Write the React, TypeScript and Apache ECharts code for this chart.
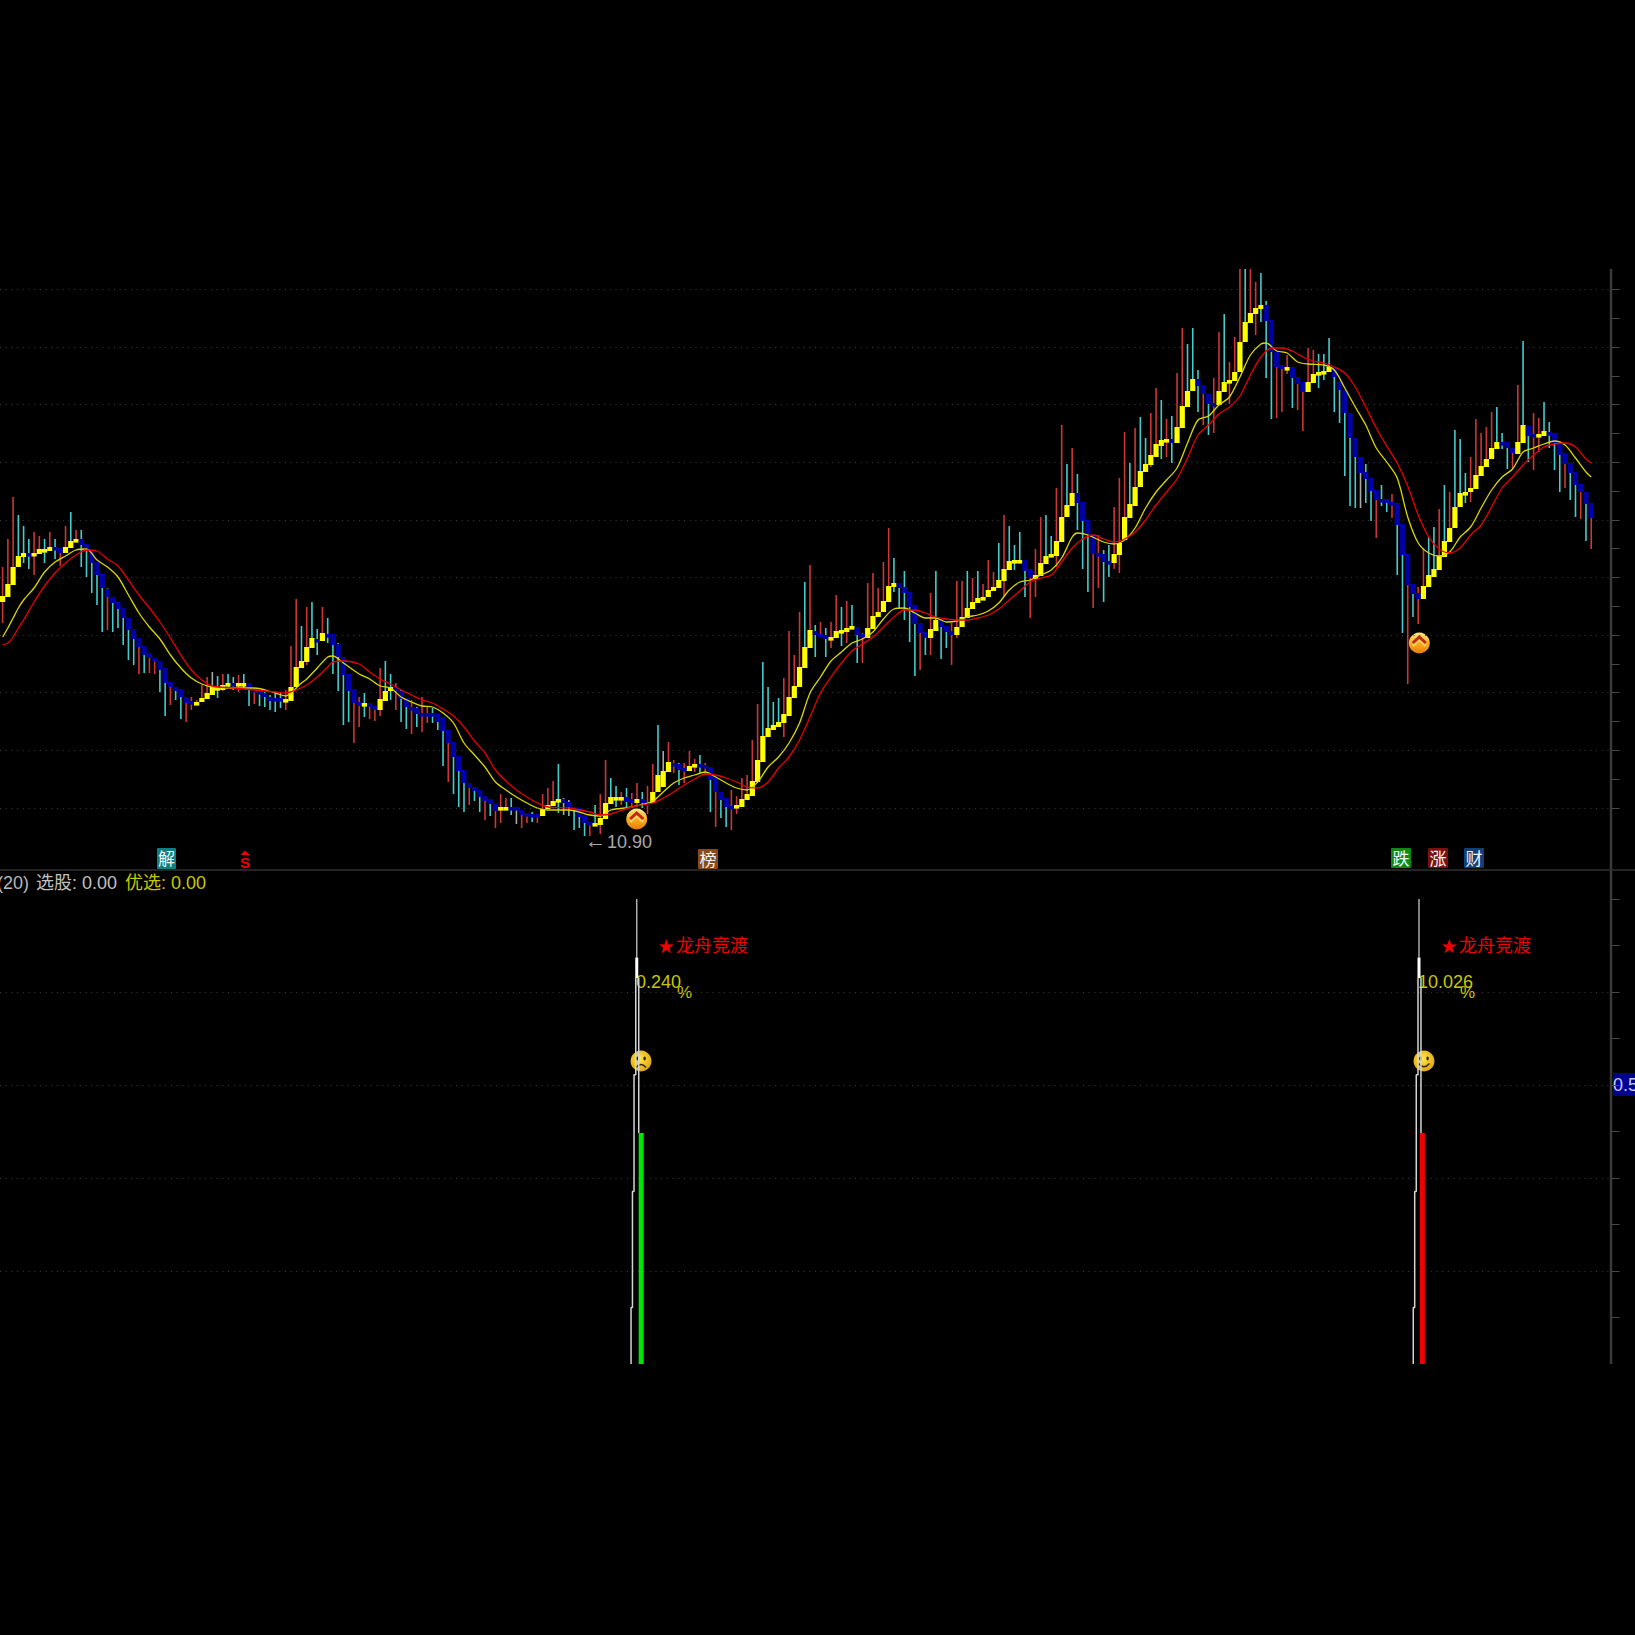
import React, { useEffect, useRef } from "react";
import * as echarts from "echarts";

// Candle values (price in hundredths; 1090 = 10.90)
const highs = [
  1359,1387,1429,1411,1400,1387,1394,1390,1387,1394,
  1387,1378,1400,1414,1396,1396,1382,1374,1364,1352,
  1338,1329,1324,1318,1308,1297,1288,1280,1273,1268,
  1265,1258,1244,1239,1237,1229,1229,1226,1241,1249,
  1254,1250,1252,1252,1249,1251,1252,1243,1238,1236,
  1234,1231,1234,1233,1236,1280,1327,1300,1319,1324,
  1297,1319,1308,1292,1283,1269,1252,1237,1229,1233,
  1223,1220,1258,1265,1252,1243,1236,1228,1226,1219,
  1229,1219,1218,1212,1209,1196,1184,1170,1156,1143,
  1139,1136,1130,1126,1122,1132,1128,1128,1119,1116,
  1113,1114,1112,1132,1138,1145,1162,1128,1126,1119,
  1118,1111,1104,1121,1132,1166,1148,1140,1134,1138,
  1133,1143,1134,1140,1162,1201,1175,1184,1166,1163,
  1163,1175,1167,1171,1163,1159,1148,1134,1128,1136,
  1130,1148,1151,1186,1222,1264,1239,1224,1228,1248,
  1295,1271,1314,1344,1361,1301,1304,1298,1304,1331,
  1319,1325,1321,1299,1293,1343,1353,1338,1364,1398,
  1368,1343,1355,1334,1321,1303,1294,1333,1355,1306,
  1300,1303,1345,1345,1355,1348,1355,1342,1366,1354,
  1383,1411,1400,1381,1394,1366,1357,1377,1409,1411,
  1390,1438,1501,1462,1478,1452,1424,1406,1392,1391,
  1376,1381,1419,1448,1494,1463,1498,1509,1488,1513,
  1538,1526,1507,1510,1553,1598,1582,1598,1556,1541,
  1532,1548,1594,1612,1564,1589,1670,1680,1680,1644,
  1653,1625,1606,1574,1561,1571,1559,1549,1544,1578,
  1576,1572,1572,1588,1558,1545,1536,1513,1488,1469,
  1462,1448,1436,1441,1427,1432,1423,1402,1372,1342,
  1339,1378,1389,1399,1417,1441,1434,1496,1487,1453,
  1469,1507,1493,1499,1514,1519,1493,1484,1478,1541,
  1585,1500,1513,1508,1524,1504,1493,1483,1473,1463,
  1454,1442,1434,1423,
];
const lows = [
  1303,1331,1346,1359,1363,1357,1351,1372,1363,1375,
  1367,1360,1373,1378,1384,1359,1349,1333,1321,1294,
  1296,1294,1298,1281,1266,1261,1252,1253,1253,1252,
  1234,1210,1221,1226,1207,1204,1216,1221,1224,1227,
  1231,1228,1235,1239,1236,1234,1238,1220,1222,1220,
  1219,1216,1214,1218,1216,1225,1239,1258,1261,1278,
  1271,1285,1283,1252,1235,1201,1204,1183,1199,1209,
  1207,1205,1210,1225,1226,1216,1204,1197,1192,1199,
  1194,1203,1203,1196,1160,1144,1132,1119,1114,1121,
  1125,1114,1106,1110,1098,1103,1117,1111,1102,1098,
  1103,1104,1103,1110,1117,1120,1113,1111,1110,1096,
  1098,1090,1090,1101,1092,1107,1122,1119,1121,1118,
  1118,1121,1118,1112,1123,1134,1139,1154,1153,1141,
  1143,1155,1154,1153,1151,1114,1099,1108,1099,1096,
  1112,1119,1126,1130,1144,1164,1189,1196,1199,1189,
  1210,1228,1239,1258,1278,1269,1289,1269,1278,1288,
  1280,1283,1297,1263,1263,1288,1297,1309,1314,1324,
  1334,1318,1306,1284,1250,1256,1271,1271,1295,1267,
  1278,1261,1288,1299,1308,1317,1323,1327,1329,1335,
  1338,1329,1356,1356,1364,1329,1308,1329,1350,1362,
  1369,1359,1384,1409,1420,1396,1357,1334,1318,1338,
  1324,1349,1357,1353,1386,1408,1420,1439,1454,1459,
  1469,1467,1469,1463,1483,1498,1519,1535,1514,1501,
  1491,1493,1521,1534,1522,1545,1554,1584,1603,1591,
  1604,1548,1507,1508,1514,1552,1518,1516,1495,1534,
  1543,1538,1546,1554,1514,1503,1450,1420,1418,1418,
  1423,1405,1388,1420,1414,1408,1351,1293,1242,1309,
  1302,1327,1339,1349,1356,1369,1384,1398,1419,1423,
  1424,1437,1450,1459,1467,1477,1477,1457,1458,1472,
  1483,1464,1456,1474,1490,1478,1456,1434,1438,1426,
  1409,1407,1385,1377,
];
const bodyTops = [
  1330,1342,1359,1370,1373,1373,1373,1377,1377,1379,
  1379,1378,1379,1385,1387,1387,1382,1374,1364,1352,
  1337,1329,1324,1318,1308,1297,1288,1280,1273,1268,
  1265,1258,1244,1239,1237,1229,1225,1224,1228,1233,
  1239,1239,1241,1243,1243,1243,1243,1243,1237,1235,
  1233,1229,1228,1228,1227,1239,1259,1265,1279,1288,
  1287,1293,1292,1292,1282,1269,1252,1237,1224,1223,
  1223,1220,1227,1235,1239,1239,1235,1228,1219,1218,
  1213,1213,1213,1212,1209,1196,1184,1170,1156,1143,
  1139,1136,1130,1127,1122,1119,1119,1119,1119,1116,
  1113,1112,1112,1117,1121,1125,1127,1127,1124,1119,
  1118,1111,1104,1103,1108,1123,1129,1129,1129,1129,
  1127,1127,1127,1124,1134,1151,1155,1164,1163,1162,
  1158,1160,1162,1162,1161,1159,1148,1134,1128,1120,
  1121,1127,1132,1145,1166,1190,1198,1201,1204,1212,
  1229,1240,1259,1279,1296,1295,1292,1291,1289,1295,
  1296,1298,1300,1299,1292,1298,1310,1314,1325,1340,
  1343,1343,1339,1334,1321,1303,1294,1297,1306,1306,
  1300,1295,1299,1309,1318,1324,1328,1329,1336,1339,
  1346,1357,1365,1366,1366,1366,1357,1351,1363,1370,
  1372,1385,1409,1421,1433,1433,1424,1406,1392,1373,
  1372,1365,1372,1383,1409,1422,1439,1455,1462,1471,
  1482,1486,1487,1487,1499,1520,1535,1547,1547,1541,
  1532,1523,1535,1544,1546,1554,1584,1604,1613,1618,
  1621,1621,1606,1574,1561,1559,1559,1549,1544,1544,
  1552,1554,1555,1559,1558,1545,1536,1513,1488,1469,
  1454,1448,1436,1427,1427,1424,1423,1402,1372,1342,
  1333,1340,1351,1357,1370,1385,1398,1419,1433,1434,
  1438,1451,1460,1467,1478,1484,1484,1484,1478,1484,
  1501,1500,1492,1492,1495,1494,1493,1483,1473,1463,
  1454,1442,1434,1423,
];
const bodyBottoms = [
  1324,1329,1341,1359,1369,1371,1371,1372,1375,1375,
  1377,1373,1373,1378,1385,1381,1377,1363,1351,1338,
  1329,1323,1317,1308,1296,1287,1279,1271,1268,1265,
  1256,1243,1239,1235,1229,1223,1223,1222,1224,1227,
  1231,1236,1236,1240,1240,1242,1242,1236,1234,1233,
  1229,1225,1225,1225,1224,1225,1239,1258,1264,1278,
  1285,1285,1291,1281,1269,1251,1235,1223,1220,1221,
  1219,1216,1216,1225,1235,1235,1227,1219,1217,1212,
  1211,1211,1211,1204,1195,1183,1169,1155,1143,1138,
  1135,1129,1125,1122,1115,1116,1117,1117,1116,1111,
  1111,1110,1110,1110,1117,1120,1125,1123,1119,1117,
  1109,1103,1101,1101,1101,1107,1122,1127,1127,1124,
  1123,1123,1123,1122,1123,1134,1139,1154,1161,1156,
  1156,1155,1159,1159,1159,1146,1134,1126,1119,1119,
  1119,1119,1126,1130,1144,1164,1189,1196,1199,1203,
  1210,1228,1239,1258,1278,1291,1289,1287,1287,1288,
  1294,1294,1297,1291,1288,1288,1297,1309,1314,1324,
  1339,1338,1333,1319,1302,1293,1288,1288,1295,1299,
  1294,1291,1291,1299,1308,1317,1323,1327,1329,1335,
  1338,1345,1356,1364,1364,1355,1348,1347,1350,1362,
  1369,1370,1384,1409,1420,1423,1405,1391,1372,1371,
  1364,1363,1363,1371,1386,1408,1420,1439,1454,1461,
  1469,1480,1485,1483,1483,1498,1519,1535,1540,1532,
  1522,1521,1521,1534,1544,1545,1554,1584,1603,1612,
  1617,1605,1574,1559,1557,1556,1548,1542,1534,1534,
  1543,1551,1553,1554,1549,1536,1513,1488,1469,1453,
  1447,1435,1426,1425,1423,1422,1401,1371,1341,1332,
  1327,1327,1339,1349,1356,1369,1384,1398,1419,1433,
  1434,1437,1450,1459,1467,1477,1483,1478,1473,1472,
  1483,1490,1489,1489,1490,1493,1483,1471,1462,1453,
  1441,1434,1422,1408,
];
// r = red wick, c = cyan wick, g = gray wick
const wickKinds =
  "rrrcccrrcr" + "crrcrccccc" + "rcccccrcrr" + "ccrccrrrrr" + "gcrccrccrc" + "ccccrrrcrc" +
  "crcccccrrc" + "rrrccrccrc" + "rrcccrcccr" + "ccrcrrrcgr" + "rcrrrrcggc" + "ccrcrrccrc" +
  "rrcrrcgrrc" + "rrrcrcrccr" + "rrrrrccccr" + "rrrcrcrcrr" + "crccrrrrrr" + "cccccrcrcc" +
  "crrrcrcrrr" + "crccccrrrc" + "crrcrcccrr" + "ccrrrcrccr" + "rcrcrrcccr" + "crrcrrrcrr" +
  "cccrrrcrrr" + "rccccccccg" + "ccrccrccrc" + "rrccrcrccc" + "rrrrrcccrr" + "ccrrccccrc" + "crcr";
// Y = yellow body, B = blue body
const bodyKinds =
  "YYYYYBYYYY" + "BBYYYBBBBB" + "BBBBBBBBBB" + "BBBBBBBYYY" + "YYYYBYYBBB" + "BBBBYYYYYY" +
  "BYBBBBBBBY" + "BBYYYBBBBB" + "BBBBBBBBBB" + "BBBBBYYBBB" + "BBBYYYYBBB" + "BBBYYYYYYB" +
  "BYBBYYYYBB" + "BYYBBBBBBB" + "YYYYYYYYYY" + "YYYYYBBBYY" + "YYYBBYYYYY" + "YBBBBBBYYB" +
  "BBYYYYYYYY" + "YYYYYBBYYY" + "YYYYYBBBBB" + "BBYYYYYYYY" + "YYYBYYYYBB" + "BBYYYYYYYY" +
  "YBBBBYBBBY" + "YYYYBBBBBB" + "BBBBBBBBBB" + "BYYYYYYYYY" + "YYYYYYBBBY" + "YBBYYBBBBB" + "BBBB";

// Moving averages, read at sampled candles: [candle index, value]
const yellowAverage = [
  [0,1289],[1,1298],[2,1308],[3,1318],[4,1326],[6,1338],[8,1354],[10,1364],[12,1370],[14,1376],[16,1377],[18,1366],
  [20,1359],[22,1349],[24,1331],[26,1313],[28,1299],[30,1287],[32,1271],[34,1258],[36,1248],[38,1242],[40,1239],
  [44,1238],[48,1238],[52,1233],[54,1230],[55,1233],[56,1238],[57,1243],[58,1247],[60,1258],[62,1269],[63,1270],
  [65,1263],[68,1252],[70,1247],[72,1240],[74,1238],[76,1229],[78,1224],[80,1220],[82,1219],[84,1213],[86,1203],
  [88,1183],[90,1171],[92,1159],[94,1144],[96,1136],[98,1129],[100,1123],[102,1118],[104,1116],[108,1116],[112,1111],
  [114,1110],[116,1116],[120,1119],[124,1125],[126,1134],[128,1143],[130,1148],[132,1151],[134,1154],[136,1149],
  [138,1143],[140,1138],[142,1136],[144,1144],[146,1159],[148,1169],[150,1183],[152,1203],[154,1233],[156,1249],
  [158,1265],[160,1274],[162,1283],[164,1287],[166,1294],[168,1307],[170,1317],[172,1318],[174,1313],[176,1308],
  [178,1308],[180,1304],[182,1305],[184,1309],[186,1311],[188,1315],[190,1323],[192,1336],[194,1344],[196,1346],
  [198,1351],[200,1356],[202,1368],[204,1389],[205,1393],[207,1391],[210,1384],[212,1382],[214,1386],[216,1398],
  [218,1418],[220,1434],[222,1446],[224,1458],[226,1483],[228,1506],[230,1510],[232,1521],[234,1529],[236,1549],
  [238,1571],[240,1582],[241,1583],[243,1575],[245,1573],[247,1564],[249,1562],[252,1561],[254,1556],[256,1538],
  [258,1519],[260,1501],[262,1478],[264,1464],[266,1448],[268,1409],[270,1383],[272,1373],[274,1370],[276,1374],
  [278,1389],[280,1399],[282,1418],[284,1436],[286,1449],[288,1457],[290,1474],[292,1478],[294,1482],[296,1485],
  [298,1481],[300,1468],[302,1454],[303,1449],
];
const redAverage = [
  [0,1281],[1,1283],[2,1289],[3,1298],[4,1306],[6,1324],[8,1340],[10,1353],[12,1363],[14,1371],[16,1376],[18,1375],
  [20,1367],[22,1360],[24,1346],[26,1331],[28,1318],[30,1304],[32,1288],[34,1271],[36,1256],[38,1246],[40,1240],
  [44,1238],[48,1236],[52,1234],[54,1233],[56,1236],[58,1241],[60,1249],[62,1259],[63,1264],[65,1265],[68,1262],
  [70,1254],[72,1247],[74,1242],[76,1236],[78,1231],[80,1226],[82,1223],[84,1217],[86,1210],[88,1199],[90,1185],
  [92,1173],[94,1156],[96,1145],[98,1136],[100,1129],[102,1123],[104,1119],[108,1118],[112,1114],[114,1111],[116,1112],
  [120,1119],[124,1123],[126,1128],[128,1134],[130,1141],[132,1147],[134,1152],[136,1151],[138,1148],[140,1144],
  [142,1139],[144,1138],[146,1144],[148,1158],[150,1169],[152,1186],[154,1209],[156,1233],[158,1249],[160,1263],
  [162,1275],[164,1282],[166,1289],[168,1299],[170,1309],[172,1316],[174,1316],[176,1313],[178,1309],[180,1307],
  [182,1306],[184,1306],[186,1308],[188,1311],[190,1317],[192,1326],[194,1335],[196,1344],[198,1348],[200,1351],
  [202,1364],[204,1378],[206,1387],[208,1391],[210,1387],[212,1384],[214,1387],[216,1394],[218,1406],[220,1421],
  [222,1434],[224,1447],[226,1468],[228,1491],[230,1501],[232,1512],[234,1519],[236,1530],[238,1551],[240,1569],
  [242,1578],[244,1578],[246,1575],[248,1569],[250,1565],[252,1563],[254,1559],[256,1553],[258,1539],[260,1519],
  [262,1498],[264,1480],[266,1463],[268,1440],[270,1411],[272,1389],[274,1377],[276,1373],[278,1378],[280,1391],
  [282,1401],[284,1419],[286,1438],[288,1449],[290,1461],[292,1471],[294,1479],[296,1482],[298,1483],[300,1479],
  [302,1467],[303,1463],
];

// Dotted price levels and right-hand tick levels of the upper pane
const priceLevels = [1636.5, 1578.9, 1521.3, 1463.7, 1406.1, 1348.5, 1290.9, 1233.3, 1175.7, 1118.1];
const priceTicks = [1636.5, 1607.7, 1578.9, 1550.1, 1521.3, 1492.5, 1463.7, 1434.9, 1406.1, 1377.3, 1348.5, 1319.7, 1290.9, 1262.1, 1233.3, 1204.5, 1175.7, 1146.9, 1118.1];

// Lower pane
const signalLevels = [0.2, 0.4, 0.6, 0.8];
const signalTicks = [0.1, 0.2, 0.3, 0.4, 0.5, 0.6, 0.7, 0.8, 0.9, 1.0];
const greenBar = [[121.8, 0.497]];
const redBar = [[270.8, 0.497]];
const firstOuter = [[120.76,0.83],[120.76,0.622],[120.43,0.622],[120.43,0.371],[120.13,0.371],[120.13,0.1215],[119.86,0.1215],[119.86,0]];
const firstInner = [[121.33,0.83],[121.33,0.497]];
const firstStem = [[120.95,1],[120.95,0.874]];
const firstStemThick = [[120.95,0.874],[120.95,0.83]];
const secondOuter = [[269.96,0.83],[269.96,0.622],[269.63,0.622],[269.63,0.371],[269.33,0.371],[269.33,0.1215],[269.06,0.1215],[269.06,0]];
const secondInner = [[270.53,0.83],[270.53,0.497]];
const secondStem = [[270.15,1],[270.15,0.874]];
const secondStemThick = [[270.15,0.874],[270.15,0.83]];

const candleRows = highs.map((h, i) => [i, h, lows[i], bodyTops[i], bodyBottoms[i]]);

const FONT = '"Liberation Sans","Noto Sans CJK SC",sans-serif';
const WICK: Record<string, string> = { r: "#cc3636", c: "#44cccc", g: "#a8a8a8" };
const BODY: Record<string, string> = { Y: "#ffff00", B: "#0000aa" };

function renderCandle(params: any, api: any) {
  const i = api.value(0);
  const x = api.coord([i, api.value(1)])[0];
  const yHigh = api.coord([i, api.value(1)])[1];
  const yLow = api.coord([i, api.value(2)])[1];
  const yTop = api.coord([i, api.value(3)])[1];
  const yBot = api.coord([i, api.value(4)])[1];
  const h = Math.max(yBot - yTop, 3.6);
  const cs = params.coordSys;
  const clip = (s: any) => echarts.graphic.clipRectByRect(s, { x: cs.x, y: cs.y, width: cs.width, height: cs.height });
  const wk = clip({ x: x - 0.8, y: yHigh, width: 1.6, height: yLow - yHigh });
  const bd = clip({ x: x - 2.6, y: yTop, width: 5.2, height: h });
  return {
    type: "group",
    children: [
      wk && { type: "rect", shape: wk, style: { fill: WICK[wickKinds[params.dataIndex]] } },
      bd && { type: "rect", shape: bd, style: { fill: BODY[bodyKinds[params.dataIndex]] } },
    ].filter(Boolean),
  };
}

const txt = (text: string, x: number, y: number, fill: string, size = 18, align = "left", weight = "normal") => ({
  type: "text",
  silent: true,
  style: { text, x, y, fill, font: `${weight} ${size}px ${FONT}`, textAlign: align, textVerticalAlign: "middle", verticalAlign: "middle" },
});

const badge = (text: string, x: number, y: number, w: number, h: number, bg: string) => [
  { type: "rect", silent: true, shape: { x, y, width: w, height: h, r: 1 }, style: { fill: bg } },
  txt(text, x + w / 2, y + h / 2 + 1, "#f4f4f4", 17, "center"),
];

const coin = (cx: number, cy: number) => ({
  type: "group",
  x: cx,
  y: cy,
  silent: true,
  children: [
    {
      type: "circle",
      shape: { cx: 0, cy: 0, r: 10.5 },
      style: {
        fill: new echarts.graphic.LinearGradient(0, 0, 0, 1, [
          { offset: 0, color: "#ffe98a" },
          { offset: 0.5, color: "#f8b020" },
          { offset: 1, color: "#e87a10" },
        ]),
      },
    },
    { type: "polyline", shape: { points: [[-6.5, 3], [0, -3.5], [6.5, 3]] }, style: { stroke: "#f8d060", fill: "none", lineWidth: 2.5 } },
    { type: "polyline", shape: { points: [[-6.5, 0], [0, -6], [6.5, 0]] }, style: { stroke: "#c02a10", fill: "none", lineWidth: 3 } },
  ],
});

const face = (cx: number, cy: number, happy: boolean) => ({
  type: "group",
  x: cx,
  y: cy,
  silent: true,
  children: [
    {
      type: "circle",
      shape: { cx: 0, cy: 0, r: 10.5 },
      style: {
        fill: new echarts.graphic.RadialGradient(0.45, 0.4, 0.65, [
          { offset: 0, color: "#ffe84a" },
          { offset: 1, color: "#dca010" },
        ]),
      },
    },
    { type: "ellipse", shape: { cx: -3.6, cy: -2.5, rx: 1.3, ry: 1.9 }, style: { fill: "#402800" } },
    { type: "ellipse", shape: { cx: 3.6, cy: -2.5, rx: 1.3, ry: 1.9 }, style: { fill: "#402800" } },
    {
      type: "bezierCurve",
      shape: happy
        ? { x1: -5.5, y1: 2.5, x2: 5.5, y2: 2.5, cpx1: 0, cpy1: 9 }
        : { x1: -5, y1: 6.5, x2: 5, y2: 6.5, cpx1: 0, cpy1: 0.5 },
      style: { stroke: "#402800", fill: "none", lineWidth: 1.5 },
    },
  ],
});

const stepLine = (name: string, data: number[][], width = 1.5, color = "#d4d4d4") => ({
  name,
  type: "line",
  xAxisIndex: 1,
  yAxisIndex: 1,
  data,
  symbol: "none",
  silent: true,
  lineStyle: { color, width },
  z: 3,
});

const dotted = { color: "#3e3e3e", width: 1, type: [1, 4.7] as number[] };

export default function App() {
  const ref = useRef<HTMLDivElement>(null);
  useEffect(() => {
    const chart = echarts.init(ref.current!, undefined, { renderer: "svg" });
    const gridLeft = -2.83;
    const gridWidth = 1612.4;
    chart.setOption({
      animation: false,
      backgroundColor: "#000000",
      grid: [
        { left: gridLeft, top: 269, width: gridWidth, height: 601 },
        { left: gridLeft, top: 899, width: gridWidth, height: 465 },
      ],
      xAxis: [
        { type: "value", gridIndex: 0, min: -0.5, max: 306.5, show: false },
        { type: "value", gridIndex: 1, min: -0.5, max: 306.5, show: false },
      ],
      yAxis: [
        {
          type: "value",
          gridIndex: 0,
          position: "right",
          offset: 2,
          min: 1056,
          max: 1657,
          axisLine: { show: false, onZero: false },
          axisLabel: { show: false },
          splitLine: { show: false },
          axisTick: { show: true, length: 8, customValues: priceTicks, lineStyle: { color: "#484848", width: 1 } },
        },
        {
          type: "value",
          gridIndex: 1,
          position: "right",
          offset: 2,
          min: 0,
          max: 1,
          axisLine: { show: false, onZero: false },
          axisLabel: { show: false },
          splitLine: { show: false },
          axisTick: { show: true, length: 8, customValues: signalTicks, lineStyle: { color: "#484848", width: 1 } },
        },
      ],
      series: [
        {
          name: "candles",
          type: "custom",
          xAxisIndex: 0,
          yAxisIndex: 0,
          data: candleRows,
          encode: { x: 0, y: [1, 2, 3, 4] },
          renderItem: renderCandle,
          clip: true,
          silent: true,
          z: 2,
        },
        {
          name: "yellow average",
          type: "line",
          xAxisIndex: 0,
          yAxisIndex: 0,
          data: yellowAverage,
          symbol: "none",
          smooth: 0.3,
          silent: true,
          lineStyle: { color: "#d8d800", width: 1.3 },
          z: 3,
          markLine: {
            silent: true,
            symbol: "none",
            label: { show: false },
            lineStyle: dotted,
            data: priceLevels.map((v) => ({ yAxis: v })),
            z: 1,
          },
        },
        {
          name: "red average",
          type: "line",
          xAxisIndex: 0,
          yAxisIndex: 0,
          data: redAverage,
          symbol: "none",
          smooth: 0.3,
          silent: true,
          lineStyle: { color: "#e80000", width: 1.3 },
          z: 4,
        },
        {
          name: "green signal",
          type: "bar",
          xAxisIndex: 1,
          yAxisIndex: 1,
          data: greenBar,
          barWidth: 5,
          silent: true,
          itemStyle: { color: "#00e600" },
          z: 3,
          markLine: {
            silent: true,
            symbol: "none",
            label: { show: false },
            lineStyle: dotted,
            data: signalLevels.map((v) => ({ yAxis: v })),
            z: 1,
          },
        },
        {
          name: "red signal",
          type: "bar",
          xAxisIndex: 1,
          yAxisIndex: 1,
          data: redBar,
          barWidth: 5,
          barGap: "-100%",
          silent: true,
          itemStyle: { color: "#f00000" },
          z: 3,
        },
        stepLine("first outer", firstOuter),
        stepLine("first inner", firstInner),
        stepLine("first stem", firstStem, 1.4, "#b8b8b8"),
        stepLine("first stem thick", firstStemThick, 3, "#ffffff"),
        stepLine("second outer", secondOuter),
        stepLine("second inner", secondInner),
        stepLine("second stem", secondStem, 1.4, "#b8b8b8"),
        stepLine("second stem thick", secondStemThick, 3, "#ffffff"),
      ],
      graphic: {
        elements: [
          { type: "line", silent: true, shape: { x1: 1611, y1: 269, x2: 1611, y2: 1364 }, style: { stroke: "#3a3a3a", lineWidth: 2.5 } },
          { type: "line", silent: true, shape: { x1: 0, y1: 870, x2: 1635, y2: 870 }, style: { stroke: "#303030", lineWidth: 1.6 } },
          coin(636.7, 819),
          coin(1419.3, 643),
          txt("←", 585, 840, "#a8a8a8", 21),
          txt("10.90", 607, 842, "#a8a8a8", 18),
          ...badge("解", 157, 848, 19, 21, "#0d7f80"),
          { type: "polygon", silent: true, shape: { points: [[240.5, 855], [245, 850.5], [249.5, 855]] }, style: { fill: "#f00000" } },
          txt("S", 245, 862.5, "#f00000", 15, "center", "bold"),
          ...badge("榜", 698, 849, 20, 20, "#8a4a16"),
          ...badge("跌", 1391, 848, 20, 20, "#0b8a18"),
          ...badge("涨", 1428, 848, 20, 20, "#7c0f0f"),
          ...badge("财", 1464, 848, 20, 20, "#123f7a"),
          txt("(20)", -3, 883, "#b8b8b8", 18),
          txt("选股: 0.00", 36, 883, "#c0c0c0", 18),
          txt("优选: 0.00", 125, 883, "#c8c800", 18),
          txt("★", 666, 946, "#f00000", 16, "center"),
          txt("龙舟竞渡", 676, 946, "#f00000", 18),
          txt("0.240", 636, 982, "#c8c800", 18),
          txt("%", 677, 992, "#c8c800", 17),
          txt("★", 1449, 946, "#f00000", 16, "center"),
          txt("龙舟竞渡", 1459, 946, "#f00000", 18),
          txt("10.026", 1418, 982, "#c8c800", 18),
          txt("%", 1460, 992, "#c8c800", 17),
          face(641, 1061, false),
          face(1424, 1061, true),
          { type: "rect", silent: true, shape: { x: 1613, y: 1073, width: 22, height: 23 }, style: { fill: "#000090" } },
          txt("0.5", 1613, 1085, "#c8c8ff", 18),
        ],
      },
    });
    return () => chart.dispose();
  }, []);
  return <div ref={ref} style={{ position: "fixed", left: 0, top: 0, width: 1635, height: 1635, background: "#000" }} />;
}
